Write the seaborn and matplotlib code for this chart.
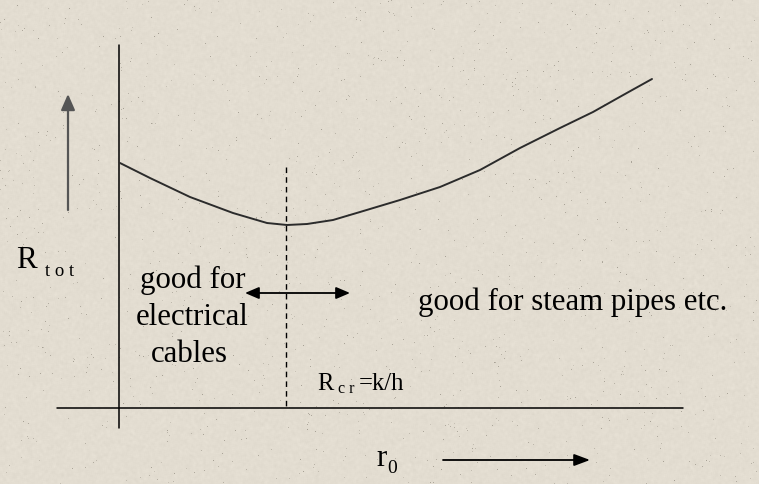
import numpy as np
import pandas as pd
import matplotlib
matplotlib.use("Agg")
import matplotlib.pyplot as plt
import seaborn as sns

sns.set_theme(style="white")
plt.rcParams["font.family"] = ["Liberation Serif", "DejaVu Serif"]

# Total resistance versus outer radius (sketch coordinates, y grows downward)
r0_vals = [120, 150, 190, 233, 267, 287, 307, 333, 360, 400, 440, 480, 520, 560, 593, 625, 652]
R_tot_vals = [163, 178, 197, 213, 223, 225, 224, 220, 212, 200, 187, 170, 148, 128, 112, 94, 79]
r_critical = 287

W, H = 759, 484
fig = plt.figure(figsize=(W / 100, H / 100), dpi=100)
ax = fig.add_axes([0, 0, 1, 1])

# Speckled paper texture
rng = np.random.default_rng(7)
noise = rng.normal(0, 1, (H, W))
k = np.ones(3) / 3
smooth = np.apply_along_axis(lambda m: np.convolve(m, k, mode="same"), 0, noise)
smooth = np.apply_along_axis(lambda m: np.convolve(m, k, mode="same"), 1, smooth)
dots = (rng.random((H, W)) < 0.004) * rng.uniform(25, 60, (H, W))
base = np.array([227, 221, 209], dtype=float)
img = base[None, None, :] + 4.0 * smooth[..., None] - dots[..., None]
img = np.clip(img, 0, 255).astype(np.uint8)
ax.imshow(img, extent=(0, W, H, 0), aspect="auto", zorder=0, interpolation="bilinear")

df = pd.DataFrame({"r0": r0_vals, "R_tot": R_tot_vals})
sns.lineplot(data=df, x="r0", y="R_tot", ax=ax, color="#2b2b2b", linewidth=1.4,
             sort=False, zorder=3)
ax.set_xlim(0, W)
ax.set_ylim(H, 0)
ax.axis("off")

# Axes of the sketch
ax.plot([119, 119], [45, 428], color="black", linewidth=1.1, zorder=2)
ax.plot([57, 683], [408, 408], color="black", linewidth=1.1, zorder=2)
ax.plot([r_critical - 1, r_critical - 1], [167, 408], color="black", linewidth=1.0,
        linestyle=(0, (4, 3)), zorder=2)

# Arrows
ax.annotate("", xy=(68, 94), xytext=(68, 210),
            arrowprops=dict(arrowstyle="-|>,head_length=0.8,head_width=0.35",
                            color="#555555", lw=1.6, shrinkA=0, shrinkB=0))
ax.annotate("", xy=(245, 293), xytext=(350, 293),
            arrowprops=dict(arrowstyle="<|-|>,head_length=0.7,head_width=0.3",
                            color="black", lw=1.3, shrinkA=0, shrinkB=0))
ax.annotate("", xy=(590, 460), xytext=(443, 460),
            arrowprops=dict(arrowstyle="-|>,head_length=0.8,head_width=0.3",
                            color="black", lw=1.3, shrinkA=0, shrinkB=0))

fs = 22.2
txt = dict(color="black", zorder=4)
ax.text(16, 268, "R", fontsize=fs, ha="left", va="baseline", **txt)
ax.text(45, 276, "t o t", fontsize=13.5, ha="left", va="baseline", **txt)

ax.text(193, 288, "good for", fontsize=fs, ha="center", va="baseline", **txt)
ax.text(192, 325, "electrical", fontsize=fs, ha="center", va="baseline", **txt)
ax.text(189, 362, "cables", fontsize=fs, ha="center", va="baseline", **txt)

ax.text(418, 310, "good for steam pipes etc.", fontsize=fs, ha="left", va="baseline", **txt)

ax.text(317, 390, "R", fontsize=17.7, ha="left", va="baseline", **txt)
ax.text(338, 393, "c r", fontsize=11.5, ha="left", va="baseline", **txt)
ax.text(359, 390, "=k/h", fontsize=17.7, ha="left", va="baseline", **txt)

ax.text(376, 466, "r", fontsize=fs, ha="left", va="baseline", **txt)
ax.text(387, 473, "0", fontsize=14, ha="left", va="baseline", **txt)

fig.savefig("out.png", dpi=100)
